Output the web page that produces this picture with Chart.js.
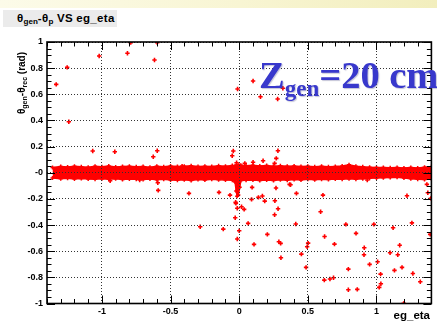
<!DOCTYPE html>
<html>
<head>
<meta charset="utf-8">
<script src="https://cdn.jsdelivr.net/npm/chart.js@4/dist/chart.umd.min.js"></script>
<style>
html,body{margin:0;padding:0;background:#fff;}
#wrap{position:relative;width:437px;height:321px;overflow:hidden;background:#fff;}
#topband{position:absolute;left:0;top:0;width:437px;height:8px;background:linear-gradient(90deg,#fcfbe9 0%,#f8f5d3 55%,#f2eebd 100%);}
#plot{position:absolute;left:0;top:0;}
.titlebox{position:absolute;left:3px;top:10px;width:114px;height:17px;background:#ebebeb;box-sizing:border-box;padding-left:14px;font:bold 11.5px "Liberation Sans",Arial,sans-serif;letter-spacing:0.3px;line-height:17px;white-space:nowrap;color:#000;}
.sb{font-size:70%;position:relative;top:0.3em;letter-spacing:0;}
.ytitle{position:absolute;left:-26px;top:75px;width:100px;height:16px;line-height:16px;text-align:center;transform:rotate(-90deg);font:bold 10px "Liberation Sans",Arial,sans-serif;white-space:nowrap;color:#000;}
.xtitle{position:absolute;right:7px;top:309px;line-height:12px;font:bold 11.5px "Liberation Sans",Arial,sans-serif;white-space:nowrap;color:#000;}
.zlabel{position:absolute;left:259px;top:53px;line-height:38px;font:bold 38.5px "Liberation Serif","Times New Roman",serif;color:#3838cc;white-space:nowrap;text-shadow:1px 1px 1px rgba(90,90,140,0.35);}
.zlabel .zs{font-size:23px;position:relative;top:8px;}
</style>
</head>
<body>
<div id="wrap">
  <div id="topband"></div>
  <canvas id="plot" width="437" height="321"></canvas>
  <div class="titlebox">θ<span class="sb">gen</span>-θ<span class="sb">p</span> VS eg_eta</div>
  <div class="ytitle">θ<span class="sb">gen</span>-θ<span class="sb">rec</span> (rad)</div>
  <div class="xtitle">eg_eta</div>
  <div class="zlabel">Z<span class="zs">gen</span>=20 cm</div>
</div>
<script>
// Axis ticks and labels
const xTickValues = [-1, -0.5, 0, 0.5, 1];
const xTickLabels = ['-1', '-0.5', '0', '0.5', '1'];
const yTickValues = [-1, -0.8, -0.6, -0.4, -0.2, 0, 0.2, 0.4, 0.6, 0.8, 1];
const yTickLabels = ['-1', '-0.8', '-0.6', '-0.4', '-0.2', '-0', '0.2', '0.4', '0.6', '0.8', '1'];

// Dense core of the distribution around zero: upper and lower edge per eta
const bandX = [
  -1.36, -1.30, -1.25, -1.20, -1.15, -1.10, -1.05, -1.00, -0.95, -0.90,
  -0.85, -0.80, -0.75, -0.70, -0.65, -0.60, -0.55, -0.50, -0.45, -0.40,
  -0.35, -0.30, -0.25, -0.20, -0.15, -0.10, -0.05, -0.03, -0.022, -0.015,
  -0.006, 0.004, 0.012, 0.05, 0.10, 0.15, 0.20, 0.25, 0.30, 0.35,
  0.40, 0.45, 0.50, 0.55, 0.60, 0.65, 0.70, 0.75, 0.80, 0.85,
  0.90, 0.95, 1.00, 1.05, 1.10, 1.15, 1.20, 1.25, 1.30, 1.35,
  1.40
];
const bandTop = [
  0.040, 0.048, 0.044, 0.050, 0.046, 0.043, 0.049, 0.045, 0.051, 0.044,
  0.047, 0.050, 0.045, 0.048, 0.043, 0.050, 0.046, 0.052, 0.047, 0.049,
  0.054, 0.048, 0.050, 0.047, 0.053, 0.049, 0.055, 0.052, 0.056, 0.054,
  0.058, 0.055, 0.057, 0.053, 0.058, 0.052, 0.056, 0.050, 0.054, 0.049,
  0.052, 0.047, 0.050, 0.046, 0.049, 0.045, 0.048, 0.052, 0.062, 0.050,
  0.046, 0.043, 0.041, 0.040, 0.038, 0.041, 0.037, 0.040, 0.036, 0.042,
  0.046
];
const bandBottom = [
  -0.040, -0.046, -0.043, -0.048, -0.044, -0.047, -0.050, -0.045, -0.049, -0.046,
  -0.051, -0.047, -0.049, -0.052, -0.048, -0.053, -0.050, -0.055, -0.058, -0.054,
  -0.060, -0.052, -0.055, -0.050, -0.054, -0.056, -0.058, -0.070, -0.140, -0.180,
  -0.170, -0.110, -0.060, -0.058, -0.055, -0.060, -0.056, -0.059, -0.054, -0.057,
  -0.052, -0.055, -0.050, -0.053, -0.049, -0.051, -0.048, -0.050, -0.046, -0.049,
  -0.045, -0.043, -0.040, -0.038, -0.036, -0.035, -0.040, -0.045, -0.050, -0.052,
  -0.045
];

// Isolated entries away from the core
const outX = [
  -1.253, -1.333, -1.241, -1.020, -0.814, -0.617, -0.790, -0.597, -1.067, -0.906,
  -0.626, -0.597, -0.051, -0.043, -0.019, 0.041, 0.101, 0.174, 0.270, 0.282,
  0.258, 0.101, -0.012, 0.318, 0.155, 0.280, -0.416,
  -0.147, -0.067, -0.026, -0.014, 0.017, 0.036, -0.029, 0.000, -0.014, -0.116,
  0.065, 0.090, 0.094, 0.140, 0.169, 0.186, 0.260, 0.268, 0.258, 0.283,
  0.108, 0.205, 0.289, 0.302, 0.304, 0.412, 0.417, 0.374, 0.453, 0.495,
  0.502, 0.487, 0.593, 0.610, 0.622, 0.694, 0.777, 0.851, 0.911, 0.909,
  0.950, 0.795, 0.620, 0.661, 0.687, 0.795, 0.981, 1.008, 1.030, 1.032,
  1.020, 1.121, 1.099, 1.155, 1.131, -0.284, 0.933, 1.258, 1.391, 1.169,
  1.186, 1.265, 1.319, 1.198, 0.860, -0.940, -0.725, -0.593, -0.590, -0.366,
  -0.024, 0.367, 1.222, 1.367, 1.374, 1.396
];
const outY = [
  0.806, 0.676, 0.390, 0.893, 0.914, 0.862, 0.995, 0.995, 0.166, 0.161,
  0.122, 0.168, 0.130, 0.166, 0.077, 0.072, 0.080, 0.092, 0.110, 0.168,
  0.072, 0.702, 0.640, 0.646, 0.581, 0.564, 0.051,
  -0.150, -0.171, -0.226, -0.272, -0.260, -0.280, -0.344, -0.444, -0.507, -0.431,
  -0.387, -0.204, -0.112, -0.188, -0.178, -0.217, -0.214, -0.117, -0.321, -0.275,
  -0.548, -0.471, -0.528, -0.540, -0.650, -0.392, -0.158, -0.092, -0.622, -0.566,
  -0.538, -0.724, -0.298, -0.171, -0.487, -0.546, -0.395, -0.464, -0.574, -0.627,
  -0.701, -0.737, -0.821, -0.813, -0.803, -0.895, -0.395, -0.681, -0.775, -0.849,
  -0.877, -0.421, -0.612, -0.627, -0.747, -0.413, -0.056, -0.383, -0.471, -0.555,
  -0.724, -0.770, -0.834, -0.999, -0.892, -0.061, -0.056, -0.077, -0.135, -0.158,
  -0.234, -0.089, -0.176, -0.089, -0.153, -0.196
];

// Minor/major tick spacing on the frame
const xMinorStep = 0.1, xMajorStep = 0.5;
const yMinorStep = 0.05, yMajorStep = 0.2;

const RED = '#ff0000';
const tickFont = { family: '"Liberation Sans", Arial, sans-serif', weight: 'bold', size: 9 };

const pair = (xs, ys) => xs.map((v, i) => ({ x: v, y: ys[i] }));

// Frame with inward ticks on all four sides
const frameTicks = {
  id: 'frameTicks',
  afterDraw(chart) {
    const { ctx, chartArea: a, scales: { x, y } } = chart;
    ctx.save();
    ctx.strokeStyle = '#000';
    ctx.lineWidth = 1;
    const seg = (x1, y1, x2, y2) => { ctx.beginPath(); ctx.moveTo(x1, y1); ctx.lineTo(x2, y2); ctx.stroke(); };
    const nx = Math.round((x.max - x.min) / xMinorStep);
    for (let i = 0; i <= nx; i++) {
      const v = x.min + i * xMinorStep;
      const major = Math.abs(v / xMajorStep - Math.round(v / xMajorStep)) < 1e-6;
      const len = major ? 8 : 4.5;
      const p = Math.round(x.getPixelForValue(v)) + 0.5;
      seg(p, a.bottom, p, a.bottom - len);
      seg(p, a.top, p, a.top + len);
    }
    const ny = Math.round((y.max - y.min) / yMinorStep);
    for (let i = 0; i <= ny; i++) {
      const v = y.min + i * yMinorStep;
      const major = Math.abs(v / yMajorStep - Math.round(v / yMajorStep)) < 1e-6;
      const len = major ? 8 : 4.5;
      const p = Math.round(y.getPixelForValue(v)) + 0.5;
      seg(a.left, p, a.left + len, p);
      seg(a.right, p, a.right - len, p);
    }
    ctx.lineWidth = 1.6;
    ctx.strokeRect(a.left, a.top, a.right - a.left, a.bottom - a.top);
    ctx.restore();
  }
};

new Chart(document.getElementById('plot'), {
  type: 'line',
  data: {
    datasets: [
      {
        label: 'core upper',
        data: pair(bandX, bandTop),
        borderColor: RED, backgroundColor: RED,
        borderWidth: 1.5, pointRadius: 2, pointStyle: 'cross', pointBorderWidth: 1.5,
        fill: '+1', tension: 0, order: 2
      },
      {
        label: 'core lower',
        data: pair(bandX, bandBottom),
        borderColor: RED, backgroundColor: RED,
        borderWidth: 1.5, pointRadius: 2, pointStyle: 'cross', pointBorderWidth: 1.5,
        fill: false, tension: 0, order: 2
      },
      {
        type: 'scatter',
        label: 'entries',
        data: pair(outX, outY),
        showLine: false,
        borderColor: RED, backgroundColor: RED,
        pointStyle: 'cross', pointRadius: 2.2, pointBorderWidth: 1.6, order: 1
      }
    ]
  },
  options: {
    responsive: false,
    animation: false,
    events: [],
    layout: { padding: { left: 0, right: 4, top: 42, bottom: 0 } },
    plugins: { legend: { display: false }, tooltip: { enabled: false }, title: { display: false } },
    scales: {
      x: {
        type: 'linear', min: -1.4, max: 1.4,
        afterFit(s) { s.height = 17.5; },
        afterBuildTicks(s) { s.ticks = xTickValues.map(v => ({ value: v })); },
        ticks: { callback: (v, i) => xTickLabels[i], font: tickFont, color: '#000', padding: 3, maxRotation: 0, autoSkip: false, includeBounds: false },
        grid: { color: '#333', lineWidth: 1, drawTicks: false, z: 1 },
        border: { display: false, dash: [1, 2] }
      },
      y: {
        type: 'linear', min: -1, max: 1,
        afterFit(s) { s.width = 47; },
        afterBuildTicks(s) { s.ticks = yTickValues.map(v => ({ value: v })); },
        ticks: { callback: (v, i) => yTickLabels[i], font: tickFont, color: '#000', padding: 4, autoSkip: false, includeBounds: false },
        grid: { color: '#333', lineWidth: 1, drawTicks: false, z: 1 },
        border: { display: false, dash: [1, 2] }
      }
    }
  },
  plugins: [frameTicks]
});
</script>
</body>
</html>
